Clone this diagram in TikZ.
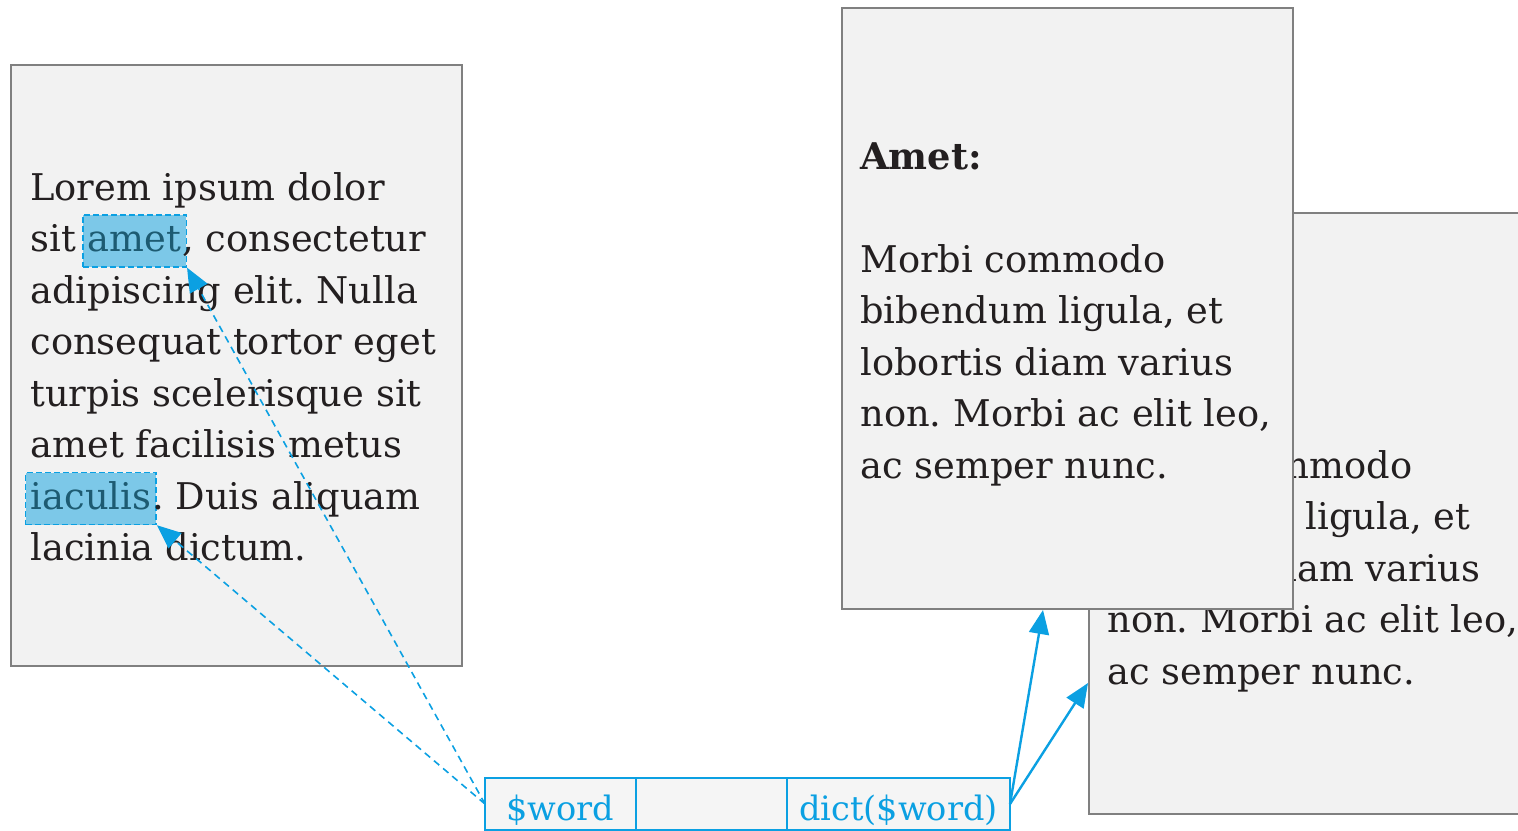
\documentclass[tikz,border=0pt]{standalone}
\usepackage{fontspec}
\setmainfont{DejaVu Serif}
\usetikzlibrary{arrows.meta,calc}

\definecolor{cardgray}{HTML}{F2F2F2}
\definecolor{edgegray}{HTML}{808080}
\definecolor{linkblue}{HTML}{0BA0E2}
\definecolor{markblue}{HTML}{7CC8E8}
\definecolor{markink}{HTML}{1D5B72}
\definecolor{inkgray}{HTML}{231F20}
\definecolor{cellgray}{HTML}{F5F5F5}
\newcommand{\bodyfont}{\frenchspacing\fontsize{18.4}{25.75}\selectfont}
\newcommand{\cellfont}{\fontsize{16.8}{20}\selectfont}

\begin{document}
\begin{tikzpicture}[x=0.5pt,y=-0.5pt,
  card/.style={draw=edgegray,fill=cardgray,line width=1pt,anchor=north west,
    inner sep=0pt,minimum width=225.5pt,minimum height=300.5pt},
  txt/.style={anchor=base west,inner sep=0pt,text=inkgray,font=\bodyfont},
  block/.style={txt,align=left},
  wordmark/.style={anchor=base west,fill=markblue,draw=linkblue,
    dash pattern=on 3pt off 1.5pt,line width=0.7pt,text=markink,font=\bodyfont,
    inner xsep=2.5pt,inner ysep=0pt,text height=18.25pt,text depth=7.75pt},
  cell/.style={draw=linkblue,fill=cellgray,line width=1pt,anchor=north west,
    minimum height=26pt,inner sep=0pt,outer sep=0pt,text=linkblue,font=\cellfont,
    text height=18pt,text depth=2pt},
  link/.style={draw=linkblue,line width=1.2pt,-{Triangle[length=12pt,width=10pt]}},
  hint/.style={link,line width=0.8pt,dash pattern=on 3.5pt off 2.5pt}]
\useasboundingbox (0,0) rectangle (1518,830);
\clip (0,0) rectangle (1518,830);

% text with the two marked words
\node[card] (page) at (10,64) {};
\foreach \i/\y/\t in {1/200/Lorem ipsum dolor,3/303/adipiscing elit. Nulla,
    4/354.5/consequat tortor eget,5/406/turpis scelerisque sit,
    6/457.5/amet facilisis metus,8/560.5/lacinia dictum.}
  \node[txt] (l\i) at (30,\y) {\t};
\node[txt] (l2) at (30,251.5) {sit};
\node[wordmark] (amet) at ([xshift=3pt]l2.base east) {amet};
\node[txt] (l2b) at ([xshift=-2.5pt]amet.base east) {, consectetur};
\node[wordmark] (iaculis) at (25,509) {iaculis};
\node[txt] (l7b) at ([xshift=-2.5pt]iaculis.base east) {. Duis aliquam};

% two dictionary cards (base = last line)
\node[card] (back) at (1088,212) {};
\node[block] (backtext) at (1107,684) {\textbf{Amet:}\\[25.75pt]Morbi commodo\\
  bibendum ligula, et\\lobortis diam varius\\non. Morbi ac elit leo,\\ac semper nunc.};
\node[card] (front) at (841,7) {};
\node[block] (fronttext) at (860,478) {\textbf{Amet:}\\[25.75pt]Morbi commodo\\
  bibendum ligula, et\\lobortis diam varius\\non. Morbi ac elit leo,\\ac semper nunc.};

% lookup row
\node[cell,minimum width=75.5pt] (word) at (485,778) {\$word};
\node[cell,minimum width=75.5pt] (gap) at (word.north east) {};
\node[cell,minimum width=111.5pt] (dict) at (gap.north east) {dict(\$word)};

\draw[hint] (word.west) -- (amet.south east);
\draw[hint] (word.west) -- (iaculis.south east);
\draw[link] (dict.east) -- ($(front.south west)+(202,0)$);
\draw[link] (dict.east) -- ($(back.north west)+(0,471)$);
\end{tikzpicture}
\end{document}
